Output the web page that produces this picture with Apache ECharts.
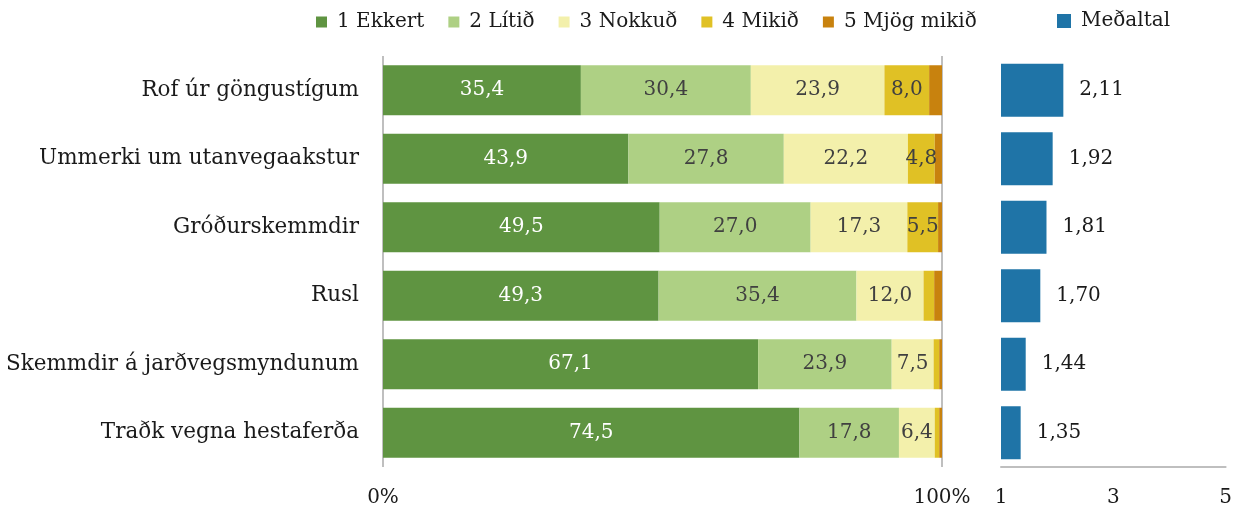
<!DOCTYPE html>
<html>
<head>
    <meta charset="utf-8">
    <title>Mat á ástandi</title>
    <script src="https://cdn.jsdelivr.net/npm/echarts@6/dist/echarts.min.js"></script>
    <style>
        html, body { margin: 0; padding: 0; background: #fff; }
        #chart { width: 1235px; height: 512px; }
    </style>
</head>
<body>
    <div id="chart"></div>
    <script>
        // categories, top to bottom
        const categories = [
            'Rof úr göngustígum',
            'Ummerki um utanvegaakstur',
            'Gróðurskemmdir',
            'Rusl',
            'Skemmdir á jarðvegsmyndunum',
            'Traðk vegna hestaferða'
        ];
        const levelNames = ['1 Ekkert', '2 Lítið', '3 Nokkuð', '4 Mikið', '5 Mjög mikið'];
        // percent per level
        const ekkert = [35.4, 43.9, 49.5, 49.3, 67.1, 74.5];
        const litid = [30.4, 27.8, 27.0, 35.4, 23.9, 17.8];
        const nokkud = [23.9, 22.2, 17.3, 12.0, 7.5, 6.4];
        const mikid = [8.0, 4.8, 5.5, 1.9, 1.0, 0.8];
        const mjogMikid = [2.3, 1.3, 0.7, 1.4, 0.5, 0.5];
        // mean score (1-5)
        const medaltal = [2.11, 1.92, 1.81, 1.70, 1.44, 1.35];
        const pctTicks = [0, 100];
        const meanTicks = [1, 3, 5];

        const levelData = [ekkert, litid, nokkud, mikid, mjogMikid];
        const levelColors = ['#5F9441', '#AED084', '#F3F0AB', '#E0C125', '#C8820E'];
        const labelColors = ['#ffffff', '#404040', '#404040', '#404040', '#404040'];

        const font = 'DejaVu Serif';
        const comma = (v, d) => v.toFixed(d).replace('.', ',');

        const chart = echarts.init(document.getElementById('chart'));

        const stackSeries = levelNames.map((name, i) => ({
            name: name,
            type: 'bar',
            stack: 'pct',
            xAxisIndex: 0,
            yAxisIndex: 0,
            barWidth: 50,
            data: levelData[i],
            itemStyle: { color: levelColors[i] },
            label: {
                show: true,
                position: 'inside',
                fontFamily: font,
                fontSize: 20,
                color: labelColors[i],
                formatter: p => (p.value >= 3 ? comma(p.value, 1) : '')
            }
        }));

        const legendText = { fontFamily: font, fontSize: 20, color: '#1a1a1a', padding: [0, 0, 0, 5] };

        const option = {
            animation: false,
            textStyle: { fontFamily: font },
            legend: [
                {
                    data: levelNames,
                    left: 316,
                    top: 12,
                    padding: 0,
                    itemWidth: 11,
                    itemHeight: 11,
                    itemGap: 24,
                    icon: 'rect',
                    textStyle: legendText
                },
                {
                    data: ['Meðaltal'],
                    left: 1057,
                    top: 11,
                    padding: 0,
                    itemWidth: 14,
                    itemHeight: 14,
                    icon: 'rect',
                    textStyle: legendText
                }
            ],
            grid: [
                { left: 383, right: 293, top: 56, bottom: 45 },
                { left: 1001, right: 9, top: 56, bottom: 45 }
            ],
            xAxis: [
                {
                    type: 'value',
                    gridIndex: 0,
                    min: pctTicks[0],
                    max: pctTicks[pctTicks.length - 1],
                    interval: 100,
                    axisLine: { show: false },
                    axisTick: { show: false },
                    splitLine: { show: true, lineStyle: { color: '#BFBFBF', width: 2 } },
                    axisLabel: {
                        fontFamily: font, fontSize: 20, color: '#1a1a1a', margin: 21,
                        formatter: '{value}%'
                    }
                },
                {
                    type: 'value',
                    gridIndex: 1,
                    min: meanTicks[0],
                    max: meanTicks[meanTicks.length - 1],
                    interval: 2,
                    startValue: 1,
                    axisLine: { show: true, lineStyle: { color: '#BFBFBF', width: 2 } },
                    axisTick: { show: false },
                    splitLine: { show: false },
                    axisLabel: { fontFamily: font, fontSize: 20, color: '#1a1a1a', margin: 21 }
                }
            ],
            yAxis: [
                {
                    type: 'category',
                    gridIndex: 0,
                    inverse: true,
                    data: categories,
                    axisLine: { show: false },
                    axisTick: { show: false },
                    axisLabel: { fontFamily: font, fontSize: 21.5, color: '#1a1a1a', margin: 24 }
                },
                {
                    type: 'category',
                    gridIndex: 1,
                    inverse: true,
                    data: categories,
                    axisLine: { show: false },
                    axisTick: { show: false },
                    axisLabel: { show: false }
                }
            ],
            series: stackSeries.concat([{
                name: 'Meðaltal',
                type: 'bar',
                xAxisIndex: 1,
                yAxisIndex: 1,
                barWidth: 53,
                clip: true,
                data: medaltal,
                itemStyle: { color: '#1F74A7' },
                label: {
                    show: true,
                    position: 'right',
                    distance: 16,
                    fontFamily: font,
                    fontSize: 20,
                    color: '#1a1a1a',
                    formatter: p => comma(p.value, 2)
                }
            }])
        };

        chart.setOption(option);
    </script>
</body>
</html>
